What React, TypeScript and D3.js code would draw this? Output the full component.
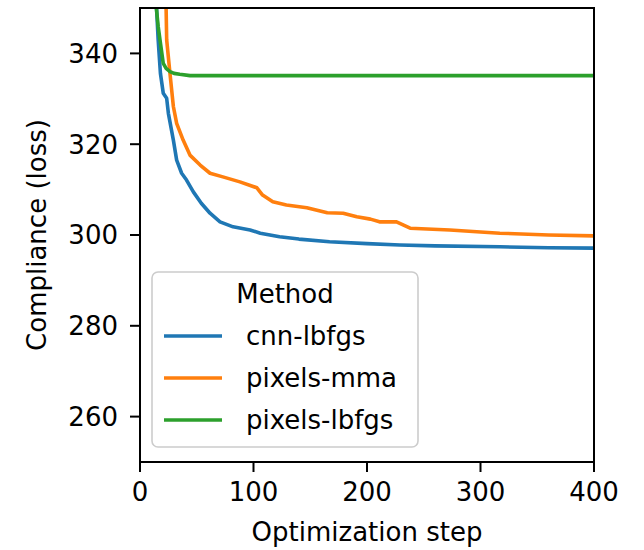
import React, { useEffect, useRef } from 'react'
import * as d3 from 'd3'

// values (step, compliance)
const cnnSteps = [0, 12, 15, 16, 18, 20.5, 23.5, 25, 29.4, 32.3, 36.7, 41, 47, 54, 61.7, 70.5, 82, 97, 106, 123, 140, 167, 200, 229, 260, 317, 360, 400]
const cnnLoss = [420, 362, 348, 343, 335.6, 331.2, 330.1, 326.8, 320.9, 316.5, 313.6, 312.1, 309.5, 307, 304.8, 302.9, 301.8, 301.1, 300.4, 299.6, 299.1, 298.5, 298.1, 297.8, 297.6, 297.4, 297.2, 297.1]

const mmaSteps = [0, 20, 23, 23.5, 26.4, 29.4, 32.3, 38, 44, 53, 61.7, 73, 88, 103, 108, 117, 129, 147, 165, 179, 191, 203, 211, 226, 238, 273, 317, 360, 400]
const mmaLoss = [600, 380, 350, 343, 335.6, 328.3, 324.6, 320.9, 317.6, 315.4, 313.6, 312.8, 311.7, 310.4, 308.8, 307.3, 306.6, 306, 304.9, 304.8, 304, 303.5, 302.9, 302.9, 301.5, 301.1, 300.4, 300, 299.8]

const lbfgsSteps = [0, 12, 14, 16, 17.6, 20.5, 23, 26.4, 30, 35, 44, 100, 200, 300, 400]
const lbfgsLoss = [500, 372, 351, 346, 343, 337.8, 336.7, 336, 335.6, 335.4, 335.1, 335.1, 335.1, 335.1, 335.1]

const methods = ['cnn-lbfgs', 'pixels-mma', 'pixels-lbfgs']
const xTicks = [0, 100, 200, 300, 400]
const yTicks = [260, 280, 300, 320, 340]

const colors = ['#1f77b4', '#ff7f0e', '#2ca02c']
const FONT = '"DejaVu Sans", sans-serif'

const App = () => {
    const node = useRef<SVGSVGElement | null>(null)

    useEffect(() => {
        const svg = d3.select(node.current)
        svg.selectAll('*').remove()

        const left = 140, right = 594, top = 8, bottom = 462
        const fs = 26
        const tickLen = 10

        const x = d3.scaleLinear().domain([0, 400]).range([left, right])
        const y = d3.scaleLinear().domain([250, 350]).range([bottom, top])

        svg.append('rect').attr('width', 644).attr('height', 550).attr('fill', '#ffffff')

        svg.append('clipPath').attr('id', 'plotClip')
            .append('rect').attr('x', left).attr('y', top)
            .attr('width', right - left).attr('height', bottom - top)

        const series = [
            { steps: cnnSteps, loss: cnnLoss },
            { steps: mmaSteps, loss: mmaLoss },
            { steps: lbfgsSteps, loss: lbfgsLoss },
        ]

        const line = d3.line<[number, number]>()
            .x(d => x(d[0]))
            .y(d => y(d[1]))

        const plot = svg.append('g').attr('clip-path', 'url(#plotClip)')
        series.forEach((s, i) => {
            const pts = s.steps.map((st, j) => [st, s.loss[j]] as [number, number])
            plot.append('path')
                .attr('d', line(pts))
                .attr('fill', 'none')
                .attr('stroke', colors[i])
                .attr('stroke-width', 3.6)
                .attr('stroke-linejoin', 'round')
                .attr('stroke-linecap', 'square')
        })

        // spines
        svg.append('rect')
            .attr('x', left).attr('y', top)
            .attr('width', right - left).attr('height', bottom - top)
            .attr('fill', 'none').attr('stroke', '#000').attr('stroke-width', 2)

        // x ticks
        const xg = svg.append('g')
        xTicks.forEach(t => {
            xg.append('line')
                .attr('x1', x(t)).attr('x2', x(t))
                .attr('y1', bottom).attr('y2', bottom + tickLen)
                .attr('stroke', '#000').attr('stroke-width', 2)
            xg.append('text')
                .attr('x', x(t)).attr('y', 501)
                .attr('text-anchor', 'middle')
                .style('font-family', FONT).style('font-size', fs + 'px')
                .attr('fill', '#000')
                .text(t)
        })

        // y ticks
        const yg = svg.append('g')
        yTicks.forEach(t => {
            yg.append('line')
                .attr('x1', left - tickLen).attr('x2', left)
                .attr('y1', y(t)).attr('y2', y(t))
                .attr('stroke', '#000').attr('stroke-width', 2)
            yg.append('text')
                .attr('x', 118).attr('y', y(t))
                .attr('dy', '0.36em')
                .attr('text-anchor', 'end')
                .style('font-family', FONT).style('font-size', fs + 'px')
                .attr('fill', '#000')
                .text(t)
        })

        svg.append('text')
            .attr('x', (left + right) / 2).attr('y', 541)
            .attr('text-anchor', 'middle')
            .style('font-family', FONT).style('font-size', fs + 'px')
            .attr('fill', '#000')
            .text('Optimization step')

        svg.append('text')
            .attr('transform', `translate(46,${(top + bottom) / 2}) rotate(-90)`)
            .attr('text-anchor', 'middle')
            .style('font-family', FONT).style('font-size', fs + 'px')
            .attr('fill', '#000')
            .text('Compliance (loss)')

        // legend
        const lg = svg.append('g')
        lg.append('rect')
            .attr('x', 152).attr('y', 272)
            .attr('width', 266).attr('height', 175)
            .attr('rx', 6).attr('ry', 6)
            .attr('fill', '#ffffff').attr('fill-opacity', 0.8)
            .attr('stroke', '#cccccc').attr('stroke-width', 1.6)
        lg.append('text')
            .attr('x', 285).attr('y', 303)
            .attr('text-anchor', 'middle')
            .style('font-family', FONT).style('font-size', fs + 'px')
            .attr('fill', '#000')
            .text('Method')
        methods.forEach((m, i) => {
            const ry = 336 + i * 42
            lg.append('line')
                .attr('x1', 164).attr('x2', 222)
                .attr('y1', ry).attr('y2', ry)
                .attr('stroke', colors[i]).attr('stroke-width', 3.6)
            lg.append('text')
                .attr('x', 246).attr('y', ry + 9)
                .style('font-family', FONT).style('font-size', fs + 'px')
                .attr('fill', '#000')
                .text(m)
        })
    }, [])

    return (
        <svg ref={node} width={644} height={550}
            style={{ position: 'absolute', left: 0, top: 0, display: 'block' }} />
    )
}

export default App
